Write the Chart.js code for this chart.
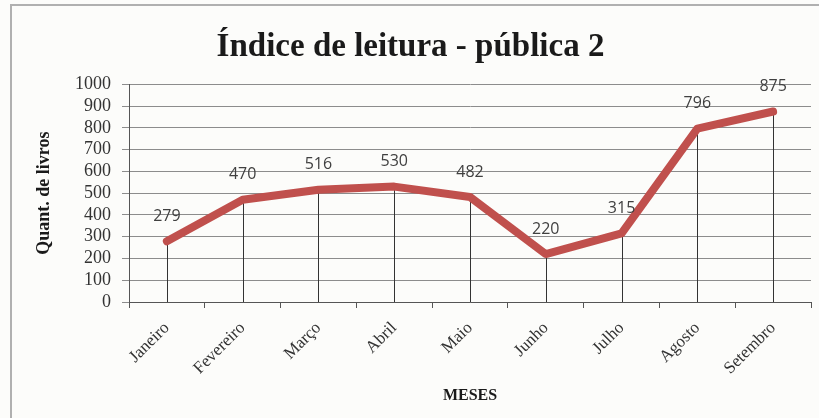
<!DOCTYPE html>
<html>
<head>
<meta charset="utf-8">
<script src="https://cdn.jsdelivr.net/npm/chart.js@4/dist/chart.umd.min.js"></script>
<style>
  html, body { margin: 0; padding: 0; background: #fcfcfa; }
  #myChart { display: block; }
</style>
</head>
<body>
<canvas id="myChart" width="819" height="418"></canvas>
<script>
// Data
const meses = ['Janeiro', 'Fevereiro', 'Março', 'Abril', 'Maio', 'Junho', 'Julho', 'Agosto', 'Setembro'];
const livros = [279, 470, 516, 530, 482, 220, 315, 796, 875];
const yTicks = [0, 100, 200, 300, 400, 500, 600, 700, 800, 900, 1000];

const serif = "'Liberation Serif', 'Times New Roman', serif";

// frame + background
const framePlugin = {
  id: 'frame',
  beforeDraw(chart) {
    const ctx = chart.ctx;
    ctx.save();
    ctx.fillStyle = '#fcfcfa';
    ctx.fillRect(0, 0, chart.width, chart.height);
    ctx.strokeStyle = '#b0b0b0';
    ctx.lineWidth = 2;
    ctx.beginPath();
    ctx.moveTo(11, chart.height);
    ctx.lineTo(11, 5);
    ctx.lineTo(chart.width, 5);
    ctx.stroke();
    ctx.restore();
  }
};

// drop lines from each point to the axis
const dropLines = {
  id: 'dropLines',
  beforeDatasetsDraw(chart) {
    const ctx = chart.ctx;
    const meta = chart.getDatasetMeta(0);
    const bottom = chart.scales.y.getPixelForValue(0);
    ctx.save();
    ctx.strokeStyle = '#333';
    ctx.lineWidth = 1;
    meta.data.forEach(p => {
      const x = Math.round(p.x) + 0.5;
      ctx.beginPath();
      ctx.moveTo(x, p.y);
      ctx.lineTo(x, bottom);
      ctx.stroke();
    });
    ctx.restore();
  }
};

// value labels above points
const valueLabels = {
  id: 'valueLabels',
  afterDatasetsDraw(chart) {
    const ctx = chart.ctx;
    const meta = chart.getDatasetMeta(0);
    ctx.save();
    ctx.font = "16px 'Open Sans', 'Liberation Sans', sans-serif";
    ctx.fillStyle = '#404040';
    ctx.textAlign = 'center';
    ctx.textBaseline = 'middle';
    meta.data.forEach((p, i) => {
      ctx.fillText(livros[i], p.x, p.y - 25);
    });
    ctx.restore();
  }
};

new Chart('myChart', {
  type: 'line',
  data: {
    labels: meses,
    datasets: [{
      label: 'Quant. de livros',
      data: livros,
      borderColor: '#c0504d',
      borderWidth: 8,
      borderCapStyle: 'round',
      borderJoinStyle: 'round',
      pointRadius: 0,
      tension: 0
    }]
  },
  options: {
    responsive: false,
    animation: false,
    layout: { padding: { left: 10, right: 8, top: 10, bottom: 10 } },
    plugins: {
      legend: { display: false },
      tooltip: { enabled: false },
      title: {
        display: true,
        text: 'Índice de leitura - pública 2',
        color: '#1a1a1a',
        font: { family: serif, size: 33, weight: 'bold', lineHeight: 1.1 },
        padding: { top: 19, bottom: 19 }
      }
    },
    scales: {
      x: {
        offset: true,
        grid: { offset: true, drawOnChartArea: false, drawTicks: true, tickLength: 6, color: '#555' },
        border: { color: '#555' },
        ticks: {
          color: '#333',
          font: { family: serif, size: 17 },
          maxRotation: 45, minRotation: 45,
          autoSkip: false,
          padding: 10
        },
        title: {
          display: true,
          text: 'MESES',
          color: '#1a1a1a',
          font: { family: serif, size: 16, weight: 'bold' },
          padding: { top: 0, bottom: 3 }
        },
        afterFit(scale) { scale.height = 106; }
      },
      y: {
        min: 0,
        max: 1000,
        afterBuildTicks(scale) { scale.ticks = yTicks.map(v => ({ value: v })); },
        grid: { color: '#8c8c8c', tickLength: 7 },
        border: { color: '#555' },
        ticks: {
          color: '#333',
          font: { family: serif, size: 18, lineHeight: 1 },
          autoSkip: false,
          padding: 11,
          callback: v => String(v)
        },
        title: {
          display: true,
          text: 'Quant. de livros',
          color: '#1a1a1a',
          font: { family: serif, size: 18, weight: 'bold' },
          padding: { top: 24, bottom: 0 }
        },
        afterFit(scale) { scale.width = 119; }
      }
    }
  },
  plugins: [framePlugin, dropLines, valueLabels]
});
</script>
</body>
</html>
